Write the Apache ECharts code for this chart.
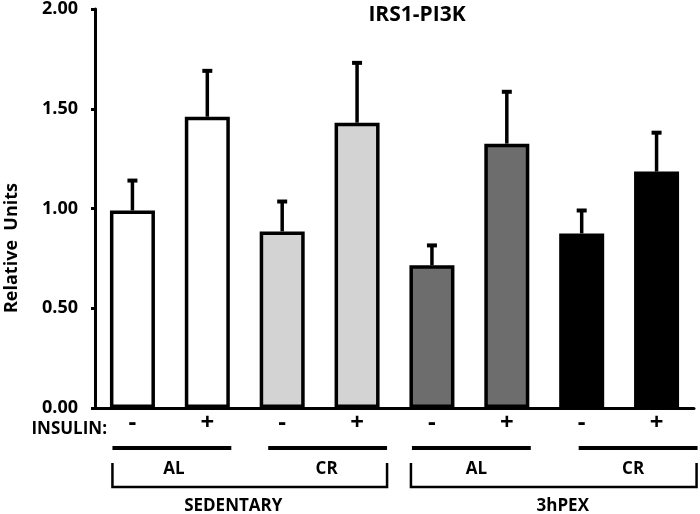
<!DOCTYPE html>
<html><head><meta charset="utf-8">
<script src="https://cdn.jsdelivr.net/npm/echarts@6/dist/echarts.min.js"></script>
<style>html,body{margin:0;padding:0;background:#fff}#c{width:700px;height:514px}</style>
</head><body><div id="c"></div>
<script>
const categories = ['SED AL -','SED AL +','SED CR -','SED CR +','3hPEX AL -','3hPEX AL +','3hPEX CR -','3hPEX CR +'];
const insulinLabels = ['-','+','-','+','-','+','-','+'];
const means = [0.99, 1.46, 0.885, 1.43, 0.715, 1.325, 0.875, 1.185];
const errTops = [1.14, 1.69, 1.035, 1.73, 0.815, 1.585, 0.99, 1.38];
const barColors = ['#ffffff','#ffffff','#d3d3d3','#d3d3d3','#6d6d6d','#6d6d6d','#000000','#000000'];
const dietGroups = [{label:'AL', first:0, last:1},{label:'CR', first:2, last:3},{label:'AL', first:4, last:5},{label:'CR', first:6, last:7}];
const activityGroups = [{label:'SEDENTARY', first:0, last:3},{label:'3hPEX', first:4, last:7}];

const FONT = 'Open Sans';
const chart = echarts.init(document.getElementById('c'), null, {renderer:'canvas'});
chart.setOption({
  animation:false,
  grid:{left:95, right:6, top:7, bottom:106},
  xAxis:{type:'category', data:categories,
    axisLine:{lineStyle:{color:'#000', width:3}},
    axisTick:{show:false},
    axisLabel:{formatter:(v,i)=>insulinLabels[i], fontFamily:FONT, fontWeight:'bold', fontSize:24, color:'#000', margin:3, interval:0}},
  yAxis:{type:'value', min:0, max:2, interval:0.5,
    axisLine:{show:true, lineStyle:{color:'#000', width:3}},
    axisTick:{show:true, inside:false, length:4, lineStyle:{color:'#000', width:3}},
    splitLine:{show:false},
    axisLabel:{formatter:v=>v.toFixed(2), fontFamily:FONT, fontWeight:'bold', fontSize:18, color:'#000', margin:17}},
  series:[
    {type:'bar', barWidth:45, z:2,
     data:means.map((v,i)=>({value:v, itemStyle:{color:barColors[i]}})),
     itemStyle:{borderColor:'#000', borderWidth:3.5}},
    {type:'custom', z:3,
     data:means.map((v,i)=>[i, v, errTops[i]]),
     renderItem:(params, api)=>{
       const p0 = api.coord([api.value(0), api.value(1)]);
       const p1 = api.coord([api.value(0), api.value(2)]);
       return {type:'group', children:[
         {type:'line', shape:{x1:p0[0], y1:p0[1], x2:p1[0], y2:p1[1]}, style:{stroke:'#000', lineWidth:3.5}},
         {type:'line', shape:{x1:p1[0]-5, y1:p1[1], x2:p1[0]+5, y2:p1[1]}, style:{stroke:'#000', lineWidth:4}}
       ]};
     }}
  ]
});

function cx(i){ return chart.convertToPixel({xAxisIndex:0}, categories[i]); }
const y0 = chart.convertToPixel({yAxisIndex:0}, 0);
const g = [];
const txt = (text, x, y, size, align) => ({type:'text', x:x, y:y,
  style:{text:text, fontFamily:FONT, fontWeight:'bold', fontSize:size, fill:'#000', align:align||'center', verticalAlign:'middle'}});
g.push(txt('IRS1-PI3K', 417, 15, 21));
g.push(txt('INSULIN:', 107, y0+21, 17, 'right'));
g.push({type:'text', x:12, y:248, rotation:Math.PI/2,
  style:{text:'Relative  Units', fontFamily:FONT, fontWeight:'bold', fontSize:18, fill:'#000', align:'center', verticalAlign:'middle'}});
const lineOffsets = [[-20,24],[-14,30],[-20,24],[-3,41]];
const labelOffsets = [4, 7, 7, 14];
dietGroups.forEach((d, k)=>{
  const a = cx(d.first) + lineOffsets[k][0], b = cx(d.last) + lineOffsets[k][1];
  g.push({type:'line', shape:{x1:a, y1:y0+40, x2:b, y2:y0+40}, style:{stroke:'#000', lineWidth:4}});
  g.push(txt(d.label, (cx(d.first)+cx(d.last))/2 + labelOffsets[k], y0+61, 17));
});
const brOffsets = [[-20,30],[-21,40]];
const brLabelOffsets = [-16.5, 9];
activityGroups.forEach((a, k)=>{
  const l = cx(a.first) + brOffsets[k][0], r = cx(a.last) + brOffsets[k][1];
  g.push({type:'polyline', shape:{points:[[l, y0+55],[l, y0+79],[r, y0+79],[r, y0+55]]}, style:{stroke:'#000', lineWidth:2.5, fill:null}});
  g.push(txt(a.label, (l+r)/2 + brLabelOffsets[k], y0+98, 17));
});
chart.setOption({graphic:g});
</script></body></html>
